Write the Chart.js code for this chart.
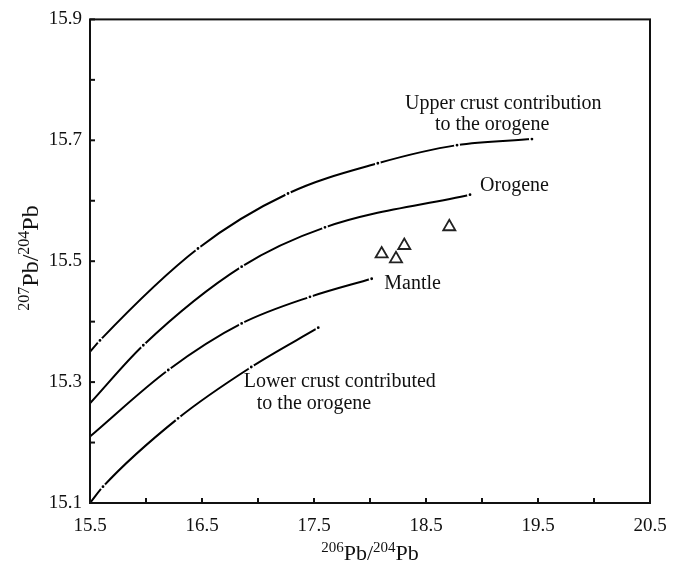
<!DOCTYPE html>
<html>
<head>
<meta charset="utf-8">
<script src="https://cdn.jsdelivr.net/npm/chart.js@4.4.0/dist/chart.umd.min.js"></script>
<style>
  html, body { margin: 0; padding: 0; background: #fff; }
  #wrap { width: 683px; height: 571px; position: relative; }
</style>
</head>
<body>
<div id="wrap"><canvas id="myChart"></canvas></div>
<script>
// curvas de evolucion del Pb (206Pb/204Pb vs 207Pb/204Pb)
const upperCrust = [[15.5, 15.350], [15.589, 15.369], [16.464, 15.521], [17.268, 15.612], [18.07, 15.662], [18.777, 15.692], [19.446, 15.702]];
const orogene = [[15.5, 15.265], [15.976, 15.361], [16.854, 15.491], [17.598, 15.556], [18.893, 15.610]];
const mantle = [[15.5, 15.210], [16.199, 15.320], [16.854, 15.397], [17.464, 15.441], [18.015, 15.471]];
const lowerCrust = [[15.5, 15.100], [15.616, 15.127], [16.286, 15.240], [16.94, 15.325], [17.538, 15.390]];
// muestras (triangulos)
const samples = [[18.104, 15.512], [18.232, 15.504], [18.306, 15.526], [18.708, 15.557]];

const xTicks = [15.5, 16.5, 17.5, 18.5, 19.5, 20.5];
const yTicks = [15.1, 15.3, 15.5, 15.7, 15.9];

// etiquetas dentro del grafico: [texto, x, y]
const curveLabels = [
    ['Upper crust contribution', 19.19, 15.761],
    ['to the orogene', 19.09, 15.725],
    ['Orogene', 19.29, 15.625],
    ['Mantle', 18.38, 15.462],
    ['Lower crust contributed', 17.73, 15.300],
    ['to the orogene', 17.50, 15.264]
];

const serif = "'Liberation Serif', 'DejaVu Serif', serif";
const toXY = arr => arr.map(p => ({x: p[0], y: p[1]}));
const near = (v, list) => list.some(t => Math.abs(t - v) < 1e-6);

let curve = (data) => ({
    type: 'line',
    data: toXY(data),
    borderColor: '#000',
    borderWidth: 2,
    cubicInterpolationMode: 'monotone',
    pointRadius: c => c.dataIndex === 0 ? 0 : 2.2,
    pointBackgroundColor: '#000',
    pointBorderColor: '#fff',
    pointBorderWidth: 1.6,
    pointHoverRadius: 0,
    fill: false
});

const framePlugin = {
    id: 'frame',
    afterDraw(chart) {
        const ctx = chart.ctx;
        const a = chart.chartArea;
        const xs = chart.scales.x, ys = chart.scales.y;
        ctx.save();
        ctx.strokeStyle = '#111';
        ctx.lineWidth = 2;
        ctx.strokeRect(a.left, a.top, a.right - a.left, a.bottom - a.top);
        // ticks hacia adentro
        ctx.lineWidth = 2;
        for (let v = 15.5; v <= 20.5001; v += 0.5) {
            const px = xs.getPixelForValue(v);
            ctx.beginPath(); ctx.moveTo(px, a.bottom); ctx.lineTo(px, a.bottom - 5); ctx.stroke();
        }
        for (let v = 15.1; v <= 15.9001; v += 0.1) {
            const py = ys.getPixelForValue(v);
            ctx.beginPath(); ctx.moveTo(a.left, py); ctx.lineTo(a.left + 5, py); ctx.stroke();
        }
        // etiquetas de curvas
        ctx.fillStyle = '#111';
        ctx.font = '20px ' + serif;
        ctx.textAlign = 'center';
        ctx.textBaseline = 'middle';
        curveLabels.forEach(l => {
            ctx.fillText(l[0], xs.getPixelForValue(l[1]), ys.getPixelForValue(l[2]));
        });
        // titulos de ejes con superindices
        const title = (sup1, sup2) => [[sup1, true], ['Pb', false], ['/', false], [sup2, true], ['Pb', false]];
        const drawTitle = (parts, cx, cy, sz) => {
            const big = sz + 'px ' + serif, small = Math.round(sz * 0.68) + 'px ' + serif;
            let w = 0;
            parts.forEach(p => { ctx.font = p[1] ? small : big; w += ctx.measureText(p[0]).width; });
            let x = cx - w / 2;
            ctx.textAlign = 'left';
            ctx.textBaseline = 'alphabetic';
            parts.forEach(p => {
                ctx.font = p[1] ? small : big;
                ctx.fillText(p[0], x, p[1] ? cy - sz * 0.37 : cy);
                x += ctx.measureText(p[0]).width;
            });
        };
        drawTitle(title('206', '204'), 370, 560, 22);
        ctx.translate(38, 258);
        ctx.rotate(-Math.PI / 2);
        drawTitle(title('207', '204'), 0, 0, 24);
        ctx.restore();
    }
};

var ctx = document.getElementById('myChart').getContext('2d');
var myChart = new Chart(ctx, {
    type: 'scatter',
    data: {
        datasets: [
            curve(upperCrust),
            curve(orogene),
            curve(mantle),
            curve(lowerCrust),
            {
                type: 'scatter',
                data: toXY(samples),
                pointStyle: 'triangle',
                pointRadius: 7,
                pointBackgroundColor: 'rgba(0,0,0,0)',
                pointBorderColor: '#222',
                pointBorderWidth: 1.8
            }
        ]
    },
    options: {
        responsive: true,
        maintainAspectRatio: false,
        animation: false,
        layout: { padding: { top: 19, right: 33, left: 0, bottom: 0 } },
        plugins: {
            legend: { display: false },
            tooltip: { enabled: false },
            title: { display: false }
        },
        scales: {
            x: {
                type: 'linear',
                min: 15.5, max: 20.5,
                grid: { display: false, drawTicks: false },
                border: { display: false },
                afterFit: s => { s.height = 68; },
                ticks: {
                    stepSize: 0.5,
                    padding: 12,
                    color: '#111',
                    font: { family: serif, size: 19 },
                    maxRotation: 0,
                    autoSkip: false,
                    callback: v => near(v, xTicks) ? v.toFixed(1) : ''
                }
            },
            y: {
                type: 'linear',
                min: 15.1, max: 15.9,
                grid: { display: false, drawTicks: false },
                border: { display: false },
                afterFit: s => { s.width = 90; },
                ticks: {
                    stepSize: 0.1,
                    padding: 8,
                    color: '#111',
                    font: { family: serif, size: 19 },
                    autoSkip: false,
                    callback: v => near(v, yTicks) ? v.toFixed(1) : ''
                }
            }
        }
    },
    plugins: [framePlugin]
});
</script>
</body>
</html>
